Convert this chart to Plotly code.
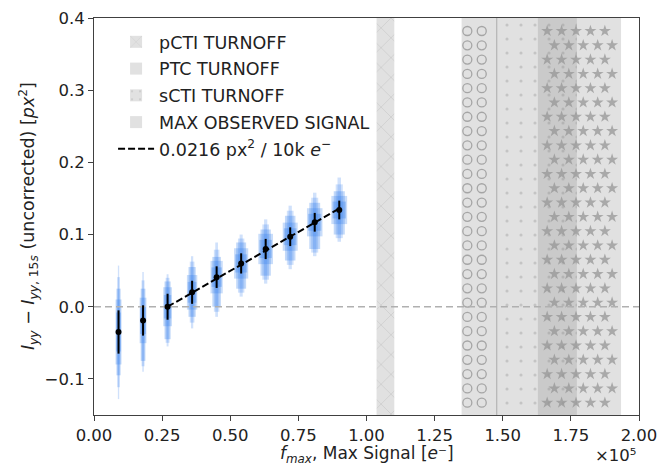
import numpy as np
import plotly.graph_objects as go

# ---------------- data (x in units of 1e5 e-) ----------------
signal = [0.09, 0.18, 0.27, 0.36, 0.45, 0.54, 0.63, 0.72, 0.81, 0.90]
mean_diff = [-0.035, -0.019, 0.000, 0.020, 0.041, 0.060, 0.080, 0.097, 0.117, 0.134]
err_diff = [0.030, 0.021, 0.018, 0.016, 0.015, 0.014, 0.014, 0.013, 0.013, 0.013]
cloud_lo = [-0.128, -0.090, -0.055, -0.030, -0.014, 0.014, 0.032, 0.052, 0.070, 0.090]
cloud_hi = [0.057, 0.048, 0.045, 0.070, 0.089, 0.100, 0.121, 0.140, 0.158, 0.179]
dense_lo = [-0.095, -0.075, -0.045, -0.014, 0.000, 0.025, 0.043, 0.064, 0.080, 0.100]
dense_hi = [0.025, 0.025, 0.035, 0.055, 0.069, 0.089, 0.107, 0.126, 0.144, 0.160]

fit_x = [0.27, 0.90]
fit_y = [0.000, 0.136]
fit_label = "0.0216 px<sup>2</sup> / 10k <i>e</i><sup>−</sup>"

band_names = ["pCTI TURNOFF", "PTC TURNOFF", "sCTI TURNOFF", "MAX OBSERVED SIGNAL"]
band_lo = [1.037, 1.349, 1.478, 1.629]
band_hi = [1.102, 1.478, 1.772, 1.934]

x_range = [0.0, 2.0]
y_range = [-0.15, 0.40]

x_title = "<i>f<sub>max</sub></i>, Max Signal [<i>e</i>⁻]"
y_title = ("<i>I<sub>yy</sub></i> − <i>I</i><sub><i>yy</i>, 15<i>s</i></sub> "
           "(uncorrected) [<i>px</i><sup>2</sup>]")
x_scale_label = "×10⁵"

# ---------------- styles ----------------
cloud_w = [0.022, 0.025, 0.032, 0.038, 0.045, 0.052, 0.054, 0.055, 0.057, 0.058]
band_fill = "rgba(128,128,128,0.24)"
hatch_col = "rgba(150,150,150,0.75)"
band_patterns = [dict(shape="x", size=14, solidity=0.08, fgcolor=hatch_col, fillmode="overlay"),
                 dict(shape=""),
                 dict(shape=".", size=14, solidity=0.04, fgcolor=hatch_col, fillmode="overlay"),
                 dict(shape="")]
FONT = "DejaVu Sans"
BIG = 17.5
TICK = 16.5

fig = go.Figure()

# shaded bands
for i, (name, lo, hi, pat) in enumerate(zip(band_names, band_lo, band_hi, band_patterns)):
    fig.add_trace(go.Bar(
        x=[(lo + hi) / 2], y=[y_range[1] - y_range[0]], base=[y_range[0]],
        width=[hi - lo], name=name, legendgroup=f"g{i}",
        marker=dict(color=band_fill, line=dict(width=0), pattern=pat),
        hoverinfo="skip"))

# edge line of the PTC band
fig.add_trace(go.Scatter(x=[band_hi[1], band_hi[1]], y=y_range, mode="lines", showlegend=False,
                         hoverinfo="skip", line=dict(color="rgba(150,150,150,0.7)", width=1)))

# hatch textures for PTC (circles) and MAX (stars) bands
dx, dy = 14.4 / 272.0, 14.3 / 722.0
def grid(lo, hi, x0, stagger, tol):
    xs, ys = [], []
    y = y_range[1] - 0.018
    row = 0
    while y > y_range[0]:
        off = (dx / 2) if (stagger and row % 2) else 0.0
        x = lo + x0 - off
        while x <= hi - tol:
            if x >= lo + 0.008:
                xs.append(x); ys.append(y)
            x += dx
        y -= dy
        row += 1
    return xs, ys

cx, cy = grid(band_lo[1], band_hi[1], 0.021, False, 0.012)
fig.add_trace(go.Scatter(x=cx, y=cy, mode="markers", showlegend=False, hoverinfo="skip",
                         marker=dict(symbol="circle-open", size=9, color="rgba(150,150,150,0.8)",
                                     line=dict(width=1.3))))
sx, sy = grid(band_lo[3], band_hi[3], 0.034, True, 0.012)
fig.add_trace(go.Scatter(x=sx, y=sy, mode="markers", showlegend=False, hoverinfo="skip",
                         marker=dict(symbol="star", size=9, color="rgba(150,150,150,0.75)",
                                     line=dict(width=0))))

# zero line
fig.add_trace(go.Scatter(x=x_range, y=[0, 0], mode="lines", showlegend=False, hoverinfo="skip",
                         line=dict(color="#b0b0b0", width=1.5, dash="7px,4px")))

# point clouds (layered translucent bars)
blue = "rgba(40,120,235,{})"
mid_lo = [(c + d) / 2 for c, d in zip(cloud_lo, dense_lo)]
mid_hi = [(c + d) / 2 for c, d in zip(cloud_hi, dense_hi)]
layers = [
    (cloud_lo, cloud_hi, 0.22, 0.22),
    (mid_lo, mid_hi, 0.45, 0.22),
    (dense_lo, dense_hi, 0.70, 0.28),
    ([m - 1.5 * e for m, e in zip(mean_diff, err_diff)],
     [m + 1.5 * e for m, e in zip(mean_diff, err_diff)], 1.0, 0.25),
    ([m - 0.9 * e for m, e in zip(mean_diff, err_diff)],
     [m + 0.9 * e for m, e in zip(mean_diff, err_diff)], 0.85, 0.28),
]
for lo, hi, wf, a in layers:
    fig.add_trace(go.Bar(x=signal, y=[h - l for h, l in zip(hi, lo)], base=lo,
                         width=[w * wf for w in cloud_w], showlegend=False, hoverinfo="skip",
                         marker=dict(color=blue.format(a), line=dict(width=0))))

# fit line
fig.add_trace(go.Scatter(x=fit_x, y=fit_y, mode="lines", name=fit_label, legendgroup="g5",
                         line=dict(color="black", width=2, dash="7px,3px")))

# means with error bars
fig.add_trace(go.Scatter(x=signal, y=mean_diff, mode="markers", showlegend=False,
                         marker=dict(color="black", size=6),
                         error_y=dict(type="data", array=err_diff, color="black",
                                      thickness=2, width=0)))

axis_common = dict(showgrid=False, zeroline=False, showline=True, mirror=True,
                   linecolor="#404040", linewidth=1, ticks="outside", ticklen=5,
                   tickwidth=1, tickcolor="#404040", ticklabelstandoff=0,
                   automargin=False,
                   tickfont=dict(family=FONT, size=TICK, color="#222"))

fig.update_layout(
    width=665, height=466,
    margin=dict(l=94, r=26, t=18, b=51),
    paper_bgcolor="white", plot_bgcolor="white",
    barmode="overlay",
    font=dict(family=FONT, size=BIG, color="#222"),
    xaxis=dict(range=x_range, dtick=0.25, tickformat=".2f", **axis_common),
    yaxis=dict(range=y_range, dtick=0.1, tickformat=".1f", **axis_common),
    legend=dict(x=0.035, y=0.985, xanchor="left", yanchor="top",
                bgcolor="rgba(255,255,255,0)", borderwidth=0,
                font=dict(family=FONT, size=BIG, color="#222"),
                itemwidth=36, tracegroupgap=1),
    annotations=[
        dict(text=x_title, xref="paper", yref="paper", x=0.5, y=-0.1,
             xanchor="center", yanchor="middle", showarrow=False,
             font=dict(family=FONT, size=17, color="#222")),
        dict(text=y_title, xref="paper", yref="paper", x=-0.12, y=0.5, textangle=-90,
             xanchor="center", yanchor="middle", showarrow=False,
             font=dict(family=FONT, size=BIG, color="#222")),
        dict(text=x_scale_label, xref="paper", yref="paper", x=0.998, y=-0.103,
             xanchor="right", yanchor="middle", showarrow=False,
             font=dict(family=FONT, size=TICK, color="#222")),
    ],
)

fig.write_html("out.html")
